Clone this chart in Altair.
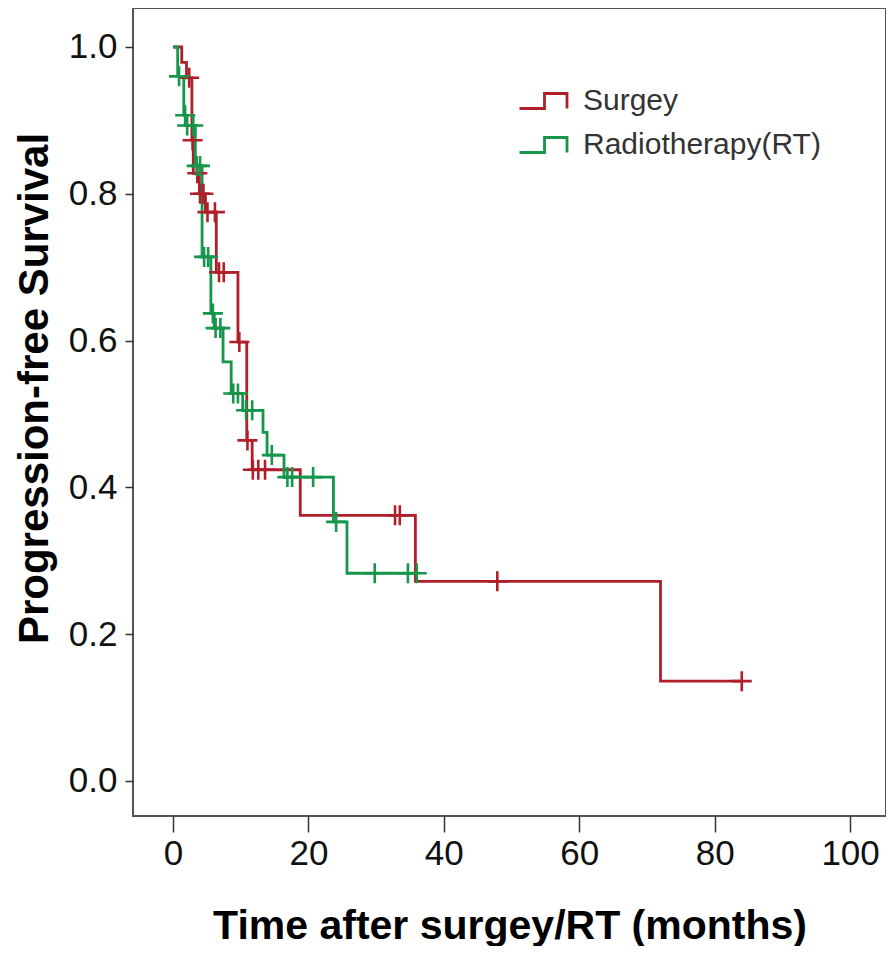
import altair as alt
import pandas as pd

# ---- data (Kaplan-Meier step curves) ----
groups = ["Surgey", "Radiotherapy(RT)"]
colors = ["#B01E2A", "#15964A"]

# Surgery: step times (months) and survival after each step
surg_t = [0, 1.3, 2.0, 2.8, 3.0, 3.9, 4.8, 6.4, 9.6, 10.9, 11.7, 18.8, 35.8, 72.0, 84.0]
surg_s = [1.0, 0.979, 0.958, 0.873, 0.828, 0.80, 0.775, 0.693, 0.598, 0.464, 0.424, 0.362, 0.272, 0.136, 0.136]
# Surgery: censored observations
surg_ct = [2.4, 2.9, 3.6, 4.0, 4.5, 5.1, 6.2, 6.8, 7.5, 9.8, 11.0, 11.8, 12.6, 13.6, 32.8, 33.5, 47.9, 84.0]
surg_cs = [0.958, 0.873, 0.828, 0.80, 0.80, 0.775, 0.775, 0.693, 0.693, 0.598, 0.464, 0.424, 0.424, 0.424, 0.362, 0.362, 0.272, 0.136]

# Radiotherapy: step times and survival
rt_t = [0, 0.7, 1.6, 1.9, 3.3, 4.3, 5.6, 6.1, 7.4, 8.6, 10.3, 13.3, 13.9, 16.4, 23.7, 25.7, 36.0]
rt_s = [1.0, 0.96, 0.907, 0.893, 0.838, 0.714, 0.637, 0.617, 0.571, 0.528, 0.505, 0.475, 0.444, 0.414, 0.353, 0.283, 0.283]
# Radiotherapy: censored observations
rt_ct = [0.9, 1.8, 2.1, 3.0, 3.5, 4.0, 4.6, 5.2, 5.9, 6.3, 7.0, 8.9, 9.6, 10.8, 11.7, 14.6, 16.9, 17.6, 20.7, 24.1, 29.8, 34.7, 36.0]
rt_cs = [0.96, 0.907, 0.893, 0.893, 0.838, 0.838, 0.714, 0.714, 0.637, 0.617, 0.617, 0.528, 0.528, 0.505, 0.505, 0.444, 0.414, 0.414, 0.414, 0.353, 0.283, 0.283, 0.283]

x_ticks = [0, 20, 40, 60, 80, 100]
y_ticks = [0.0, 0.2, 0.4, 0.6, 0.8, 1.0]

line_df = pd.concat([
    pd.DataFrame({"t": surg_t, "s": surg_s, "g": groups[0]}),
    pd.DataFrame({"t": rt_t, "s": rt_s, "g": groups[1]}),
])
cens_df = pd.concat([
    pd.DataFrame({"t": surg_ct, "s": surg_cs, "g": groups[0]}),
    pd.DataFrame({"t": rt_ct, "s": rt_cs, "g": groups[1]}),
])

FONT = "Liberation Sans"

x_enc = alt.X(
    "t:Q",
    scale=alt.Scale(domain=[-5.9, 105.3], nice=False, zero=False),
    axis=alt.Axis(
        values=x_ticks, format="d", title="Time after surgey/RT (months)",
        grid=False, domain=False, ticks=True, tickSize=16, tickWidth=1.5,
        tickColor="#333", labelFontSize=35, labelFont=FONT, labelColor="#111",
        labelPadding=4, labelBaseline="top", titleFont=FONT, titleFontSize=41,
        titleFontWeight="bold", titleColor="#000", titleBaseline="alphabetic",
        titleY=122,
    ),
)
y_enc = alt.Y(
    "s:Q",
    scale=alt.Scale(domain=[-0.0477, 1.0531], nice=False, zero=False),
    axis=alt.Axis(
        values=y_ticks, format=".1f", title="Progression-free Survival",
        grid=False, domain=False, ticks=True, tickSize=8, tickWidth=1.5,
        tickColor="#333", labelFontSize=35, labelFont=FONT, labelColor="#111",
        labelPadding=8, titleFont=FONT, titleFontSize=42, titleFontWeight="bold",
        titleColor="#000", titleX=-99, titleY=380, titleBaseline="middle",
        titleAngle=270,
    ),
)

color_scale = alt.Scale(domain=groups, range=colors)

lines = alt.Chart(line_df).mark_line(interpolate="step-after", strokeWidth=2.8).encode(
    x=x_enc,
    y=y_enc,
    color=alt.Color(
        "g:N", scale=color_scale,
        legend=alt.Legend(
            title=None, orient="none", legendX=396.5, legendY=78,
            symbolType="M-2,0.6L0,0.6L0,-0.6L1.8,-0.6L1.8,0.6",
            symbolSize=625, symbolStrokeWidth=2.8, symbolFillColor="transparent",
            labelFontSize=30, labelFont=FONT, labelColor="#333", labelLimit=0,
            labelOffset=23.5, rowPadding=14, padding=0,
        ),
    ),
    detail="g:N",
)

marks = alt.Chart(cens_df).mark_point(
    shape="M-1,0L1,0M0,-1L0,1", filled=False, strokeWidth=2.6, size=400, opacity=1
).encode(
    x=x_enc,
    y=y_enc,
    color=alt.Color("g:N", scale=color_scale, legend=None),
)

chart = alt.layer(lines, marks).properties(
    width=753,
    height=808,
    padding={"left": 125, "top": 0, "right": 0, "bottom": 130},
    autosize=alt.AutoSizeParams(type="none"),
    background="white",
).configure_view(
    stroke="#555", strokeWidth=2
)

chart.save("out.html", embed_options={"renderer": "svg", "actions": False})
